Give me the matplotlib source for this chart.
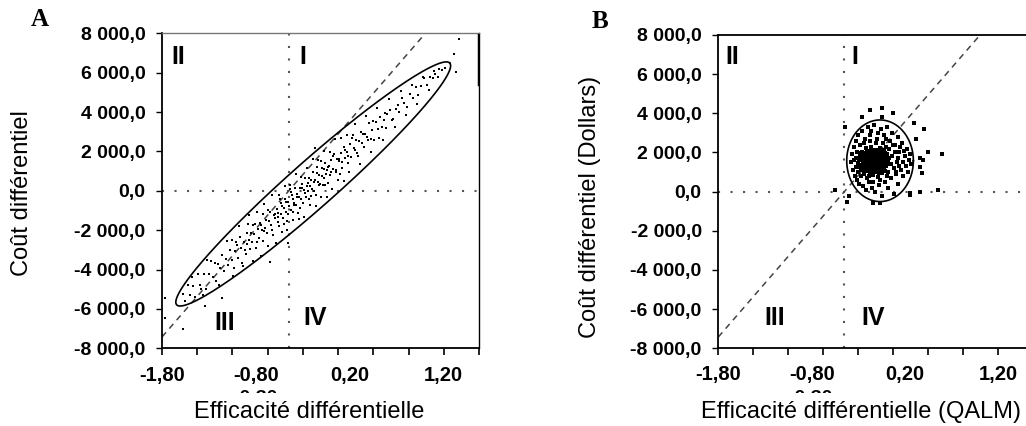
import matplotlib

matplotlib.use('Agg')
import numpy as np
import matplotlib.pyplot as plt
from matplotlib.transforms import Bbox

plt.rcParams['font.family'] = ['Liberation Sans', 'DejaVu Sans']

# axes / labels
y_ticks = [-8000, -6000, -4000, -2000, 0, 2000, 4000, 6000, 8000]
x_tick_marks = [-1.80, -1.425, -1.05, -0.675, -0.30, 0.075, 0.45, 0.825, 1.20, 1.575]
x_label_pos = [-1.80, -0.80, 0.20, 1.20]
x_label_txt = ['-1,80', '-0,80', '0,20', '1,20']
quad_x = -0.45          # seuil efficacité (ligne pointillée verticale)
wtp = 5500              # pente de la droite de disposition à payer
quadrants = ['II', 'I', 'III', 'IV']

# panneau A : nuage allongé (efficacité, coût)
a_x = [-1.58, -1.55, -1.52, -1.50, -1.47, -1.45, -1.42, -1.40, -1.38, -1.35, -1.33, -1.30, -1.28,
       -1.26, -1.24, -1.22, -1.20, -1.18, -1.16, -1.14, -1.12, -1.10,
       -1.08, -1.06, -1.05, -1.03, -1.02, -1.00, -0.99, -0.97, -0.96, -0.95, -0.93, -0.92, -0.90,
       -0.89, -0.88, -0.86, -0.85, -0.84, -0.82, -0.81, -0.80, -0.78, -0.77, -0.76, -0.74, -0.73,
       -0.72, -0.70, -0.69, -0.68, -0.66, -0.65, -0.64, -0.62, -0.61, -0.60,
       -0.58, -0.57, -0.56, -0.55, -0.54, -0.53, -0.52, -0.51, -0.50, -0.49, -0.48, -0.47, -0.46,
       -0.45, -0.44, -0.43, -0.42, -0.41, -0.40, -0.39, -0.38, -0.37, -0.36, -0.35, -0.34, -0.33,
       -0.32, -0.31, -0.30, -0.29, -0.28, -0.27, -0.26, -0.25, -0.24, -0.23, -0.22, -0.21, -0.20,
       -0.19, -0.18, -0.17, -0.16, -0.15, -0.14, -0.13, -0.12, -0.11, -0.10, -0.09, -0.08, -0.07,
       -0.06, -0.05, -0.04, -0.03, -0.02, -0.01, 0.00,
       0.02, 0.03, 0.05, 0.06, 0.08, 0.09, 0.11, 0.12, 0.14, 0.15, 0.17, 0.18, 0.20, 0.21, 0.23,
       0.24, 0.26, 0.27, 0.29, 0.30, 0.32, 0.33, 0.35, 0.36, 0.38, 0.40, 0.42, 0.44, 0.46, 0.48,
       0.50, 0.52, 0.54, 0.56, 0.58, 0.60,
       0.63, 0.66, 0.69, 0.72, 0.75, 0.78, 0.81, 0.84, 0.87, 0.90, 0.93, 0.96, 0.99, 1.02, 1.05,
       1.08, 1.11, 1.14, 1.18,
       1.36, 1.31, 1.33, -1.80, -1.77, -1.77, -1.58, -1.16, -1.34, -0.17, -0.65, -0.46,
       # points vers les bords de l'ellipse
       -1.48, -1.36, -1.32, -1.19, -1.11, -1.04, -0.98, -0.94, -0.87, -0.83, -0.79, -0.75, -0.71,
       -0.67, -0.63, -0.59, -0.555, -0.525, -0.495, -0.465, -0.435, -0.405, -0.375, -0.345,
       -0.315, -0.285, -0.255, -0.225, -0.195, -0.165, -0.135, -0.105, -0.075, -0.045, -0.015,
       0.015, 0.045, 0.075, 0.105, 0.135, 0.165, 0.195, 0.25, 0.31, 0.37, 0.43, 0.49, 0.55,
       0.62, 0.68, 0.74, 0.80, 0.86, 0.92, 0.98, 1.04, 1.10, 1.15, 1.21,
       # bande centrale plus dense
       -1.01, -0.91, -0.87, -0.83, -0.79, -0.75, -0.71, -0.67, -0.63, -0.595, -0.565, -0.535,
       -0.505, -0.475, -0.455, -0.425, -0.395, -0.365, -0.335, -0.305, -0.275, -0.245, -0.215,
       -0.185, -0.155, -0.125, -0.095, -0.065, -0.035, -0.005, 0.025, 0.055, 0.085, 0.115,
       0.145, 0.175, 0.22, 0.28, 0.34, 0.39, 0.45, 0.51, 0.57, 0.65, 0.71]
a_y = [-5220, -5590, -4770, -5280, -4860, -5370, -4250, -4760, -4980, -4250, -4970, -4240, -3550,
       -4370, -3690, -4600, -3720, -3930, -3250, -4060, -3480, -3790,
       -3010, -3530, -2480, -3900, -3060, -2770, -3430, -2350, -2900, -3660, -2580, -3030, -2150,
       -2710, -1670, -2980, -2140, -2600, -2210, -1670, -2930, -1940, -2400, -1660, -1970, -2530,
       -1190, -1910, -1460, -2120, -1540, -1090, -1750, -2270, -1230, -1380,
       -900, -1560, -1110, -1770, -430, -1190, -750, -1400, -860, -420, -1080, -1530, -590,
       -750, 90, -970, -220, -1080, -440, -600, 150, -710, -170, -1130, -290, 160,
       -400, 140, -620, 30, 670, -290, 250, -5, 640, -420, 220, 560, 110,
       950, -10, 530, -230, 920, 460, 800, 340, 1490, 730, 270, 1110, 650,
       1400, 840, 1080, 420, 1270, 810, 1550,
       1130, 1880, 960, 1600, 1490, 830, 1910, 1460, 2240, 1680, 1970, 1410, 2390, 1740, 2820,
       2160, 2050, 2590, 1770, 2520, 3000, 2440, 2230, 2870, 2750, 3440, 2620, 3110, 2590, 3480,
       3160, 3750, 3230, 3610, 3200, 3880,
       4110, 3640, 4160, 3990, 4720, 4440, 4270, 4900, 4720, 5250, 4880, 5300, 5730, 5360, 5780,
       5710, 5940, 5760, 6130,
       7720, 6960, 6050, -7320, -5440, -6450, -7010, -5440, -5840, 2180, -3600, -2640,
       -4400, -5290, -3520, -4770, -2540, -4340, -1790, -3820, -1220, -3550, -1090, -3320, -650,
       -2780, -210, -2640, -190, -2070, 260, -2010, 310, -1460, 870, -1410,
       720, -1350, 1170, -700, 1630, -750, 1580, -290, 2030, -340, 1990,
       110, 2640, 570, 2690, 520, 2850, 970, 3410, 1360, 3810, 1970, 4220, 2570,
       4670, 3220, 5070, 3830, 5380, 4430, 5790, 5140, 6090, 6210, 6260,
       -2610, -3190, -2520, -1750, -2590, -1720, -2050, -980, -2010, -1160, -1340, -610,
       -1680, -560, -1170, -40, -720, -290, -860, 360, -110, 420, -260,
       470, 1200, 320, 1150, 280, 1200, 930, 1760, 1080, 1610, 1140,
       2060, 1790, 2680, 1930, 2890, 2600, 3550, 2700, 3960, 3590, 4350]
# ellipse de confiance A : centre, demi-grand axe, demi-petit axe (vecteurs)
a_ell = dict(c=(-0.19, 348), u=(1.454, 6139), v=(0.162, -874))

# panneau B : nuage compact
b_x = [-0.30, -0.28, -0.27, -0.26, -0.25, -0.24, -0.23, -0.22, -0.22, -0.21,
       -0.20, -0.20, -0.19, -0.19, -0.18, -0.18, -0.17, -0.17, -0.16, -0.16,
       -0.15, -0.15, -0.14, -0.14, -0.13, -0.13, -0.12, -0.12, -0.11, -0.11,
       -0.10, -0.10, -0.09, -0.09, -0.08, -0.08, -0.07, -0.07, -0.06, -0.06,
       -0.05, -0.05, -0.04, -0.03, -0.03, -0.02, -0.01, -0.01, 0.00, 0.00,
       -0.29, -0.27, -0.25, -0.24, -0.23, -0.21, -0.19, -0.18, -0.17, -0.16,
       -0.15, -0.14, -0.13, -0.12, -0.11, -0.10, -0.09, -0.08, -0.07, -0.06,
       -0.05, -0.04, -0.02, -0.02, -0.01, -0.20, -0.16, -0.13, -0.11, -0.18,
       -0.29, -0.28, -0.27, -0.26, -0.26, -0.25, -0.24, -0.24, -0.23, -0.23,
       -0.22, -0.22, -0.21, -0.21, -0.20, -0.20, -0.19, -0.19, -0.18, -0.18,
       -0.17, -0.17, -0.16, -0.16, -0.15, -0.15, -0.14, -0.14, -0.13, -0.13,
       -0.12, -0.12, -0.11, -0.11, -0.10, -0.10, -0.09, -0.09, -0.08, -0.08,
       -0.07, -0.07, -0.06, -0.06, -0.05, -0.05, -0.04, -0.04, -0.03, -0.03,
       -0.02, -0.02, -0.01, 0.01, 0.01, 0.02, -0.21, -0.18, -0.15, -0.12,
       -0.38, -0.37, -0.36, -0.35, -0.34, -0.33, -0.32, -0.31, -0.30, -0.29,
       -0.26, -0.25, -0.23, -0.22, -0.20, -0.19, -0.17, -0.15, -0.13, -0.12,
       -0.10, -0.08, -0.06, -0.05, -0.03, -0.01, 0.01, 0.02, 0.04, 0.05,
       0.06, 0.08, 0.09, 0.10, 0.12, 0.13, 0.14, 0.16, 0.17, 0.18,
       0.20, 0.21, 0.22, 0.23, 0.24, 0.25, 0.26, 0.02, 0.03, 0.05,
       0.06, 0.08, 0.09, 0.11, 0.12, 0.14, 0.15, 0.03, 0.07, 0.10,
       -0.33, -0.31, -0.28, -0.27, -0.24, -0.21, -0.18, -0.14, -0.11, -0.07,
       -0.04, 0.00, 0.01, -0.35, -0.30, 0.18, 0.19, -0.09, -0.16, 0.00,
       0.45, 0.36, 0.36, 0.55, -0.44, -0.26, -0.05, -0.55, -0.42, 0.25, -0.14, -0.05,
       -0.18, 0.07, 0.39, 0.38, -0.07, 0.25, 0.36, 0.30, 0.32, -0.40, 0.40, 0.60]
b_y = [1450, 1820, 1120, 2050, 1600, 900, 1350, 2210, 1700, 1050,
       1500, 1900, 780, 1250, 2100, 1650, 1420, 980, 1800, 2300,
       1300, 1550, 1950, 850, 1180, 1700, 2150, 1400, 1020, 1850,
       1600, 1250, 2000, 750, 1450, 1750, 1100, 2250, 1350, 1900,
       1550, 950, 1700, 1250, 2050, 1480, 1800, 1050, 1600, 1300,
       1250, 1700, 1980, 1150, 1780, 1350, 1580, 1150, 1900, 1250,
       1050, 1650, 1450, 1850, 1350, 2150, 1250, 950, 1650, 1150,
       2150, 1350, 1750, 1150, 1950, 1700, 1520, 1950, 1600, 1350,
       1600, 1350, 1950, 1250, 1750, 1400, 1850, 1600, 1050, 1500,
       1900, 1300, 1550, 2000, 1150, 1350, 1750, 2050, 1500, 950,
       1650, 1200, 1400, 2000, 1750, 1150, 1450, 1250, 1600, 2100,
       1000, 1600, 1750, 1200, 1400, 1850, 1550, 1050, 1300, 2050,
       1500, 1850, 1600, 1000, 1300, 1800, 1550, 2000, 1650, 1050,
       1350, 2100, 1550, 1400, 1900, 1600, 1800, 1850, 1950, 1300,
       1500, 1900, 1100, 2300, 800, 1700, 2600, 600, 2900, 400,
       3100, 300, 2700, 100, 3300, 500, 2900, 200, 3400, 0,
       2700, 350, 3200, -200, 2900, 500, 3300, 200, 2600, 700,
       3000, -100, 2400, 900, 2800, 400, 2000, 1100, 2500, 800,
       1800, 1300, 2200, 1000, 1600, 1900, 1400, 1000, 2200, 1400,
       1800, 1200, 2000, 1500, 1700, 1300, 2300, 1700, 2400, 1000,
       1250, 2000, 2400, 800, 2500, 700, 2600, 500, 2500, 600,
       2500, 2300, 800, 1600, 1000, 1500, 2100, 3000, 3100, 2700,
       2020, 1720, 1260, 90, 3300, 3810, 3810, 90, -520, -60, -580, 4250,
       4170, 4000, 1620, 950, -590, -170, 0, 3500, 2700, -200, 3200, 1900]
b_ell = dict(c=(-0.067, 1578), u=(0.357, 0), v=(0, 2084))

W, H = 1026, 426
fig = plt.figure(figsize=(W / 100, H / 100), dpi=100)


def fmt_fr(v):
    s = f"{abs(v):,.1f}".replace(',', ' ').replace('.', ',')
    return ('-' if v < 0 else '') + s


def px_axes(left, right, top, bottom):
    return fig.add_axes([left / W, (H - bottom) / H, (right - left) / W, (bottom - top) / H])


def draw_panel(ax, xs, ys, ell, dot_size, num_pos):
    ax.set_xlim(-1.80, 1.575)
    ax.set_ylim(-8000, 8000)
    ax.axvline(quad_x, ls=(0, (1, 5)), lw=1.5, color='#555555', zorder=1)
    ax.axhline(0, ls=(0, (1, 5)), lw=1.5, color='#555555', zorder=1)
    xl = np.array([-1.80, quad_x + 8000 / wtp])
    ax.plot(xl, wtp * (xl - quad_x), ls=(0, (4, 3.3)), lw=1.1, color='#444444', zorder=2)
    ax.scatter(xs, ys, s=dot_size, c='black', marker='s', linewidths=0, zorder=3)
    t = np.linspace(0, 2 * np.pi, 300)
    ex = ell['c'][0] + ell['u'][0] * np.cos(t) + ell['v'][0] * np.sin(t)
    ey = ell['c'][1] + ell['u'][1] * np.cos(t) + ell['v'][1] * np.sin(t)
    ax.plot(ex, ey, color='black', lw=1.2, zorder=4)

    ax.set_yticks(y_ticks)
    ax.set_yticklabels([fmt_fr(v) for v in y_ticks], fontsize=14, fontweight='bold')
    ax.set_xticks(x_tick_marks)
    ax.set_xticklabels([])
    ax.tick_params(axis='y', length=4, width=1, pad=8)
    ax.tick_params(axis='x', length=5, width=1.2)
    for xv, txt in zip(x_label_pos, x_label_txt):
        ax.text(xv, -0.085, txt, transform=ax.get_xaxis_transform(), ha='center', va='center',
                fontsize=14.5, fontweight='bold')
    for (fx, fy), txt in zip(num_pos, quadrants):
        ax.text(fx, fy, txt, transform=ax.transAxes, ha='center', va='center',
                fontsize=18, fontweight='bold')
    for sp in ax.spines.values():
        sp.set_linewidth(1.3)


# Panneau A
axA = px_axes(162, 479, 33.3, 348.3)
draw_panel(axA, a_x, a_y, a_ell, 4,
           [(0.050, 0.925), (0.445, 0.925), (0.199, 0.080), (0.483, 0.096)])
axA.spines['top'].set_color('#777777')
axA.spines['top'].set_linewidth(1)
axA.spines['right'].set_linewidth(1)
axA.axvline(1.575, ymin=0.84, ymax=0.995, lw=2.5, color='black', zorder=5)
fig.text(22 / W, 1 - 193 / H, 'Coût différentiel', rotation=90, ha='center', va='center', fontsize=17)
fig.text(309 / W, 1 - 418 / H, 'Efficacité différentielle', ha='center', va='baseline', fontsize=17)
fig.text(40 / W, 1 - 19 / H, 'A', family='Liberation Serif', fontweight='bold', fontsize=18,
         ha='center', va='center')

# Panneau B
axB = px_axes(718.3, 1033.3, 35, 348.3)
draw_panel(axB, b_x, b_y, b_ell, 6,
           [(0.043, 0.930), (0.433, 0.930), (0.180, 0.097), (0.490, 0.097)])
fig.text(590 / W, 1 - 207 / H, 'Coût différentiel (Dollars)', rotation=90, ha='center', va='center',
         fontsize=17)
fig.text(861 / W, 1 - 418 / H, 'Efficacité différentielle (QALM)', ha='center', va='baseline',
         fontsize=17)
fig.text(600 / W, 1 - 22 / H, 'B', family='Liberation Serif', fontweight='bold', fontsize=18,
         ha='center', va='center')

# étiquettes à moitié masquées sous -0,80 (reste de la figure d'origine) : seul le haut est visible
for cx in (255, 810):
    ghost = fig.text(cx / W, 1 - 403 / H, '-0,30', ha='center', va='baseline', fontsize=14,
                     fontweight='bold')
    ghost.set_clip_box(Bbox.from_extents(cx - 40, H - 393, cx + 40, H - 384))
    ghost.set_clip_on(True)

fig.savefig('out.png', dpi=100)
